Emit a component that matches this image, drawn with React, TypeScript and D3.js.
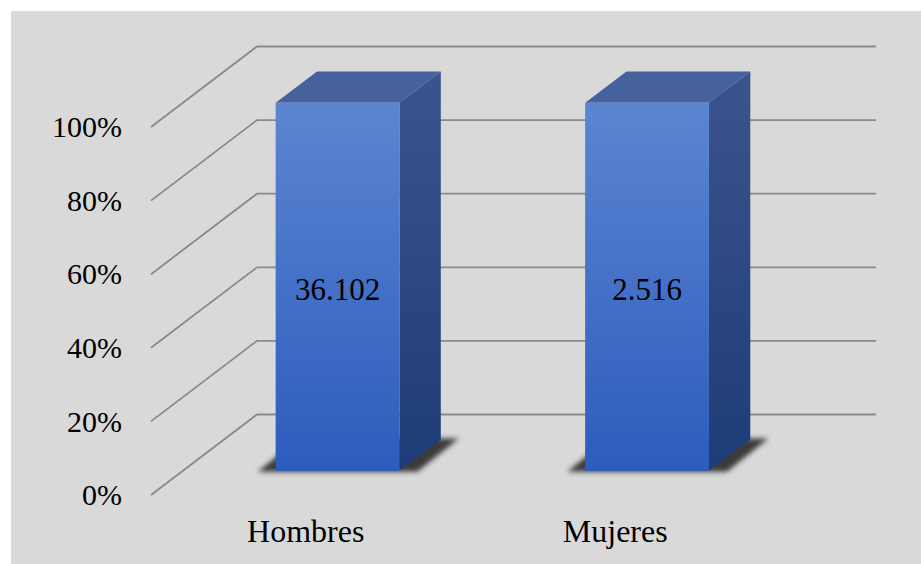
import React from "react";
import * as d3 from "d3";

const categories = ["Hombres", "Mujeres"];
const percents = [100, 100];
const valueLabels = ["36.102", "2.516"];
const ticks = [0, 20, 40, 60, 80, 100];

const W = 921;
const H = 564;
const DX = 106;
const DY = -80.5;
const barDepth0 = 0.3;
const barDepth1 = 0.69;

export default function App() {
  const y = d3.scaleLinear().domain([0, 100]).range([495, 127]);
  const x = d3.scaleBand().domain(categories).range([151, 770]).paddingInner(0).paddingOuter(0);
  const bw = x.bandwidth() * 0.4;
  const font = "'Liberation Serif', 'Times New Roman', serif";

  return (
    <svg width={W} height={H} style={{ position: "fixed", left: 0, top: 0 }}>
      <defs>
        <linearGradient id="front" x1="0" y1="0" x2="0" y2="1">
          <stop offset="0" stopColor="#5c85d1" />
          <stop offset="1" stopColor="#2c5cbd" />
        </linearGradient>
        <linearGradient id="side" x1="0" y1="0" x2="0" y2="1">
          <stop offset="0" stopColor="#3b548d" />
          <stop offset="1" stopColor="#1e3c77" />
        </linearGradient>
        <filter id="shadowBlur" x="-20%" y="-50%" width="140%" height="200%">
          <feGaussianBlur stdDeviation="2.5" />
        </filter>
        <filter id="lineBlur" x="-5%" y="-50%" width="110%" height="200%">
          <feGaussianBlur stdDeviation="0.5" />
        </filter>
      </defs>
      <rect x={11} y={11} width={W - 11} height={H - 11} fill="#d9d9d9" />
      <g filter="url(#lineBlur)" stroke="#8a8a8a" strokeWidth={1.8} fill="none">
        {ticks.map((t) => (
          <path
            key={t}
            d={`M${151},${y(t)} L${151 + DX},${y(t) + DY} L${770 + DX},${y(t) + DY}`}
          />
        ))}
      </g>
      {ticks.map((t) => (
        <text
          key={"l" + t}
          x={122}
          y={y(t)}
          dy="0.34em"
          textAnchor="end"
          fontFamily={font}
          fontSize={30}
          fill="#000"
        >
          {t}%
        </text>
      ))}
      {categories.map((c, i) => {
        const cx = x(c)! + x.bandwidth() / 2;
        const fx = cx - bw / 2 + DX * barDepth0;
        const fy0 = y(0) + DY * barDepth0;
        const fy1 = y(percents[i]) + DY * barDepth0;
        const ddx = DX * (barDepth1 - barDepth0);
        const ddy = DY * (barDepth1 - barDepth0);
        const shadow = `M${fx - 18},${fy0 + 1} L${fx + bw + 18},${fy0 + 1} L${fx + bw + ddx + 18},${fy0 + ddy - 1} L${fx + ddx - 18},${fy0 + ddy - 1} Z`;
        return (
          <g key={c}>
            <path d={shadow} fill="#2a2a2a" filter="url(#shadowBlur)" opacity={0.9} />
            <path
              d={`M${fx},${fy1} L${fx + ddx},${fy1 + ddy} L${fx + bw + ddx},${fy1 + ddy} L${fx + bw},${fy1} Z`}
              fill="#46629c"
            />
            <path
              d={`M${fx + bw},${fy1} L${fx + bw + ddx},${fy1 + ddy} L${fx + bw + ddx},${fy0 + ddy} L${fx + bw},${fy0} Z`}
              fill="url(#side)"
            />
            <rect x={fx} y={fy1} width={bw} height={fy0 - fy1} fill="url(#front)" />
            <text
              x={fx + bw / 2}
              y={(fy0 + fy1) / 2 + 3}
              dy="0.33em"
              textAnchor="middle"
              fontFamily={font}
              fontSize={31}
              fill="#000"
            >
              {valueLabels[i]}
            </text>
            <text
              x={cx}
              y={542}
              textAnchor="middle"
              fontFamily={font}
              fontSize={32}
              fill="#000"
            >
              {c}
            </text>
          </g>
        );
      })}
    </svg>
  );
}
